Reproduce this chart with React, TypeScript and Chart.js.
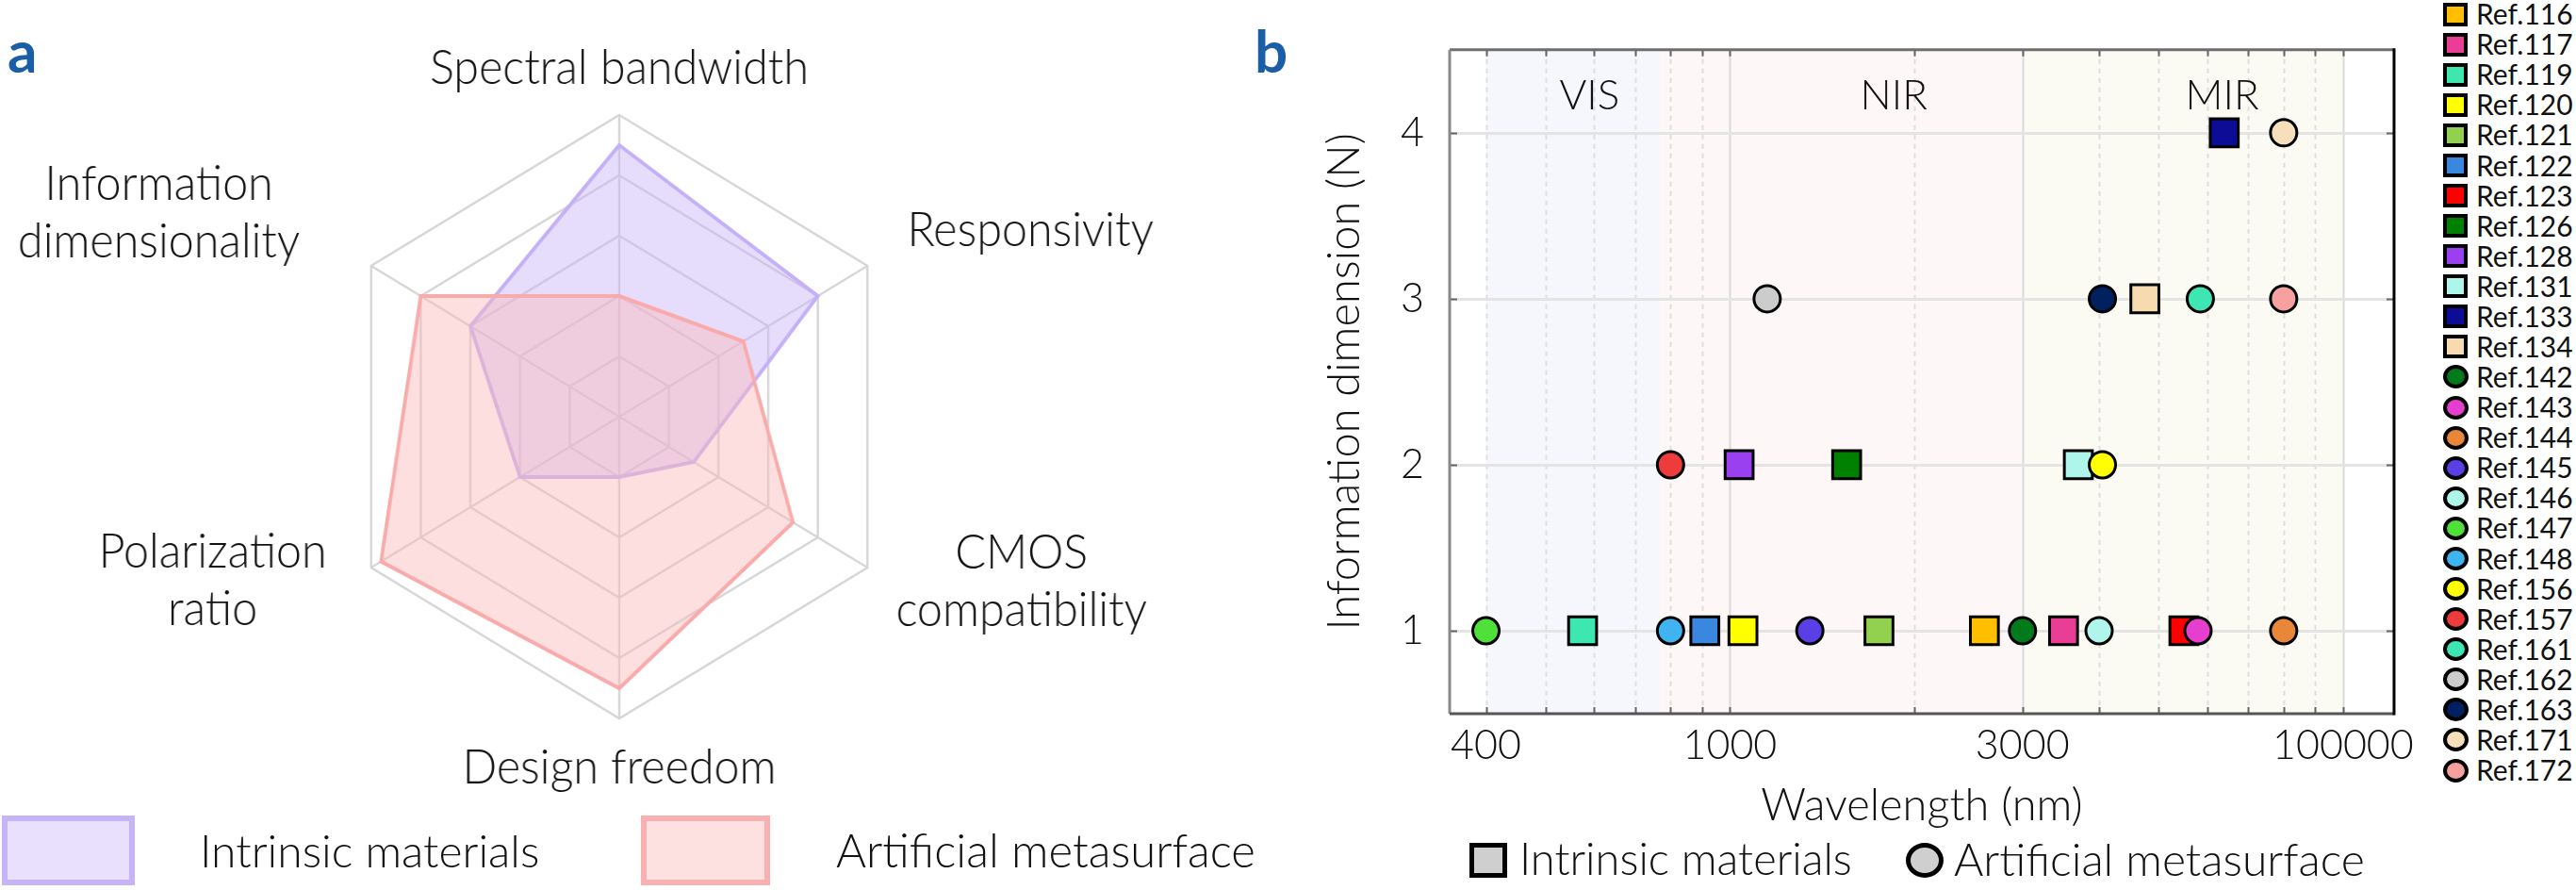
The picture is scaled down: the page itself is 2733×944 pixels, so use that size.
import { useEffect, useRef } from 'react';
import { Chart, registerables } from 'chart.js';

Chart.register(...registerables);

const FONT = 'Lato, "Open Sans", "Noto Sans", sans-serif';

// ---- Panel a: performance radar ----
const RADAR_AXES: string[][] = [
  ['Spectral bandwidth'],
  ['Responsivity'],
  ['CMOS', 'compatibility'],
  ['Design freedom'],
  ['Polarization', 'ratio'],
  ['Information', 'dimensionality'],
];
const INTRINSIC_SCORES = [4.5, 4, 1.5, 1, 2, 3];
const METASURFACE_SCORES = [2, 2.5, 3.5, 4.5, 4.8, 4];
const RADAR_MAX = 5;
const SERIES_NAMES = ['Intrinsic materials', 'Artificial metasurface'];

// ---- Panel b: information dimension vs wavelength ----
const REF_NAMES = [
  'Ref.116', 'Ref.117', 'Ref.119', 'Ref.120', 'Ref.121', 'Ref.122', 'Ref.123', 'Ref.126',
  'Ref.128', 'Ref.131', 'Ref.133', 'Ref.134', 'Ref.142', 'Ref.143', 'Ref.144', 'Ref.145',
  'Ref.146', 'Ref.147', 'Ref.148', 'Ref.156', 'Ref.157', 'Ref.161', 'Ref.162', 'Ref.163',
  'Ref.171', 'Ref.172',
];
// 'sq' = intrinsic material, 'ci' = artificial metasurface
const REF_KINDS = [
  'sq', 'sq', 'sq', 'sq', 'sq', 'sq', 'sq', 'sq', 'sq', 'sq', 'sq', 'sq',
  'ci', 'ci', 'ci', 'ci', 'ci', 'ci', 'ci', 'ci', 'ci', 'ci', 'ci', 'ci', 'ci', 'ci',
];
const REF_WAVELENGTHS = [
  2600, 3500, 575, 1050, 1750, 910, 5500, 1550, 1035, 3700, 6400, 4750,
  3000, 5800, 8000, 1350, 4000, 400, 800, 4050, 800, 5850, 1150, 4050, 8000, 8000,
];
const REF_DIMENSIONS = [
  1, 1, 1, 1, 1, 1, 1, 2, 2, 2, 4, 3,
  1, 1, 1, 1, 1, 1, 1, 2, 2, 3, 3, 3, 4, 3,
];
const REF_COLORS = [
  '#ffbf00', '#e83e96', '#3ee6b0', '#ffff00', '#92d050', '#3a87e0', '#ff0000', '#008000',
  '#9b40f0', '#aef5ec', '#0c0c96', '#f8dab0', '#007a1a', '#e63ecf', '#e8873a', '#5a3fe6',
  '#b0f5ec', '#4fe03a', '#3fb4f0', '#ffff00', '#ee3b3b', '#3ee6b4', '#cccccc', '#00205f',
  '#f8dfbb', '#f7a0a0',
];

const BAND_NAMES = ['VIS', 'NIR', 'MIR'];
const BAND_START = [400, 770, 3000];
const BAND_END = [770, 3000, 10000];
const BAND_LABEL_AT = [590, 1850, 6350];
const BAND_LABEL_LEVEL = 4.22;
const BAND_COLORS = ['#f5f7fd', '#fdf7f7', '#fbfbf4'];

const X_MIN = 349;
const X_MAX = 12110;
const X_TICKS = [400, 500, 600, 700, 800, 900, 1000, 2000, 3000, 4000, 5000, 6000, 7000, 8000, 9000, 10000];
const X_MAJOR = [1000, 3000, 10000];
const X_LABELED = [400, 1000, 3000, 10000];
const X_LABEL_TEXT = ['400', '1000', '3000', '100000'];
const Y_MIN = 0.5;
const Y_MAX = 4.5;
const Y_TICKS = [1, 2, 3, 4];

// label block centres, relative to each outer hexagon vertex
const RADAR_LABEL_OFFSETS = [
  [0, -49], [182, -37], [172, 15], [0, 53], [-177, 14], [-237, -56],
];

const radarLabels = {
  id: 'radarLabels',
  afterDraw(chart: any) {
    const scale = chart.scales.r;
    const { ctx } = chart;
    ctx.save();
    ctx.fillStyle = '#111';
    ctx.font = `300 51px ${FONT}`;
    ctx.textAlign = 'center';
    ctx.textBaseline = 'middle';
    const lh = 61;
    (chart.data.labels as string[][]).forEach((lines, i) => {
      const p = scale.getPointPosition(i, scale.drawingArea);
      const cx = p.x + RADAR_LABEL_OFFSETS[i][0];
      const cy = p.y + RADAR_LABEL_OFFSETS[i][1];
      lines.forEach((t, k) => {
        ctx.fillText(t, cx, cy + (k - (lines.length - 1) / 2) * lh);
      });
    });
    ctx.restore();
  },
};

const scatterDecor = {
  id: 'scatterDecor',
  beforeDatasetsDraw(chart: any) {
    const { ctx, chartArea: a, scales } = chart;
    const x = scales.x;
    const y = scales.y;
    ctx.save();
    BAND_START.forEach((s, i) => {
      const x0 = x.getPixelForValue(s);
      const x1 = x.getPixelForValue(BAND_END[i]);
      ctx.fillStyle = BAND_COLORS[i];
      ctx.fillRect(x0, a.top, x1 - x0, a.bottom - a.top);
    });
    X_TICKS.forEach((v) => {
      const px = Math.round(x.getPixelForValue(v)) + 0.5;
      const major = X_MAJOR.includes(v);
      ctx.strokeStyle = major ? '#d9d9d9' : '#dedede';
      ctx.lineWidth = 2;
      ctx.setLineDash(major ? [] : [5, 5]);
      ctx.beginPath();
      ctx.moveTo(px, a.top);
      ctx.lineTo(px, a.bottom);
      ctx.stroke();
    });
    ctx.setLineDash([]);
    Y_TICKS.forEach((v) => {
      const py = Math.round(y.getPixelForValue(v)) + 0.5;
      ctx.strokeStyle = '#e4e4e4';
      ctx.lineWidth = 3;
      ctx.beginPath();
      ctx.moveTo(a.left, py);
      ctx.lineTo(a.right, py);
      ctx.stroke();
    });
    ctx.fillStyle = '#111';
    ctx.font = `300 44px ${FONT}`;
    ctx.textAlign = 'center';
    ctx.textBaseline = 'middle';
    BAND_NAMES.forEach((n, i) => {
      ctx.fillText(n, x.getPixelForValue(BAND_LABEL_AT[i]), y.getPixelForValue(BAND_LABEL_LEVEL));
    });
    ctx.restore();
  },
  afterDatasetsDraw(chart: any) {
    const { ctx, chartArea: a, scales } = chart;
    const x = scales.x;
    const y = scales.y;
    ctx.save();
    ctx.strokeStyle = '#666';
    ctx.lineWidth = 2;
    X_TICKS.forEach((v) => {
      const px = Math.round(x.getPixelForValue(v)) + 0.5;
      ctx.beginPath();
      ctx.moveTo(px, a.bottom);
      ctx.lineTo(px, a.bottom - 7);
      ctx.moveTo(px, a.top);
      ctx.lineTo(px, a.top + 7);
      ctx.stroke();
    });
    Y_TICKS.forEach((v) => {
      const py = Math.round(y.getPixelForValue(v)) + 0.5;
      ctx.beginPath();
      ctx.moveTo(a.left, py);
      ctx.lineTo(a.left + 8, py);
      ctx.moveTo(a.right, py);
      ctx.lineTo(a.right - 8, py);
      ctx.stroke();
    });
    ctx.lineWidth = 3;
    const edge = (c: string, x0: number, y0: number, x1: number, y1: number) => {
      ctx.strokeStyle = c;
      ctx.beginPath();
      ctx.moveTo(x0, y0);
      ctx.lineTo(x1, y1);
      ctx.stroke();
    };
    edge('#6e6e6e', a.left, a.top, a.right, a.top);
    edge('#8a8a8a', a.left, a.top, a.left, a.bottom);
    edge('#555', a.left, a.bottom, a.right, a.bottom);
    edge('#000', a.right, a.top - 1.5, a.right, a.bottom + 1.5);
    ctx.restore();
  },
};

function RadarPanel() {
  const ref = useRef<HTMLCanvasElement>(null);
  useEffect(() => {
    const chart = new Chart(ref.current!, {
      type: 'radar',
      data: {
        labels: RADAR_AXES as any,
        datasets: [
          {
            label: SERIES_NAMES[0],
            data: INTRINSIC_SCORES,
            borderColor: '#c4b0f8',
            backgroundColor: 'rgba(200,180,250,0.45)',
            borderWidth: 4,
            pointRadius: 0,
            fill: true,
            order: 1,
          },
          {
            label: SERIES_NAMES[1],
            data: METASURFACE_SCORES,
            borderColor: '#f9abab',
            backgroundColor: 'rgba(250,185,185,0.45)',
            borderWidth: 4,
            pointRadius: 0,
            fill: true,
            order: 0,
          },
        ],
      },
      options: {
        animation: false,
        responsive: false,
        devicePixelRatio: 1,
        layout: { padding: { left: 397, right: 343, top: 122, bottom: 182 } },
        plugins: { legend: { display: false }, tooltip: { enabled: false } },
        elements: { line: { tension: 0, borderJoinStyle: 'miter' } },
        scales: {
          r: {
            min: 0,
            max: RADAR_MAX,
            ticks: { display: false, stepSize: 1 },
            grid: { color: '#d6d6d6', lineWidth: 2.5 },
            angleLines: { color: '#d6d6d6', lineWidth: 2.5 },
            pointLabels: { display: false },
          },
        },
      },
      plugins: [radarLabels],
    });
    return () => chart.destroy();
  }, []);
  return (
    <canvas
      ref={ref}
      width={1380}
      height={944}
      style={{ position: 'absolute', left: -60, top: 0, transform: 'scaleX(0.95)', transformOrigin: '717px 0' }}
    />
  );
}

function ScatterPanel() {
  const ref = useRef<HTMLCanvasElement>(null);
  useEffect(() => {
    const datasets = REF_NAMES.map((name, i) => {
      const sq = REF_KINDS[i] === 'sq';
      return {
        label: name,
        data: [{ x: REF_WAVELENGTHS[i], y: REF_DIMENSIONS[i] }],
        pointStyle: sq ? 'rect' : 'circle',
        pointRadius: sq ? 21 : 14,
        pointBackgroundColor: REF_COLORS[i],
        pointBorderColor: '#000',
        pointBorderWidth: 3,
        order: sq ? 1 : 0,
      };
    });
    const chart = new Chart(ref.current!, {
      type: 'scatter',
      data: { datasets: datasets as any },
      options: {
        animation: false,
        responsive: false,
        devicePixelRatio: 1,
        layout: { padding: { left: 69, right: 23, top: 6, bottom: 0 } },
        plugins: { legend: { display: false }, tooltip: { enabled: false } },
        scales: {
          x: {
            type: 'logarithmic',
            min: X_MIN,
            max: X_MAX,
            afterBuildTicks: (s: any) => {
              s.ticks = X_TICKS.map((v) => ({ value: v }));
            },
            afterFit: (s: any) => {
              s.height = 187;
            },
            grid: { display: false, drawTicks: false },
            border: { display: false },
            ticks: {
              autoSkip: false,
              maxRotation: 0,
              padding: 8,
              color: '#111',
              font: { family: FONT, size: 43, weight: 300 as any },
              callback: (v: any) => {
                const k = X_LABELED.indexOf(Number(v));
                return k >= 0 ? X_LABEL_TEXT[k] : '';
              },
            },
            title: {
              display: true,
              text: 'Wavelength (nm)',
              color: '#111',
              padding: { top: 0, bottom: 61 },
              font: { family: FONT, size: 47, weight: 300 as any },
            },
          },
          y: {
            type: 'linear',
            min: Y_MIN,
            max: Y_MAX,
            afterBuildTicks: (s: any) => {
              s.ticks = Y_TICKS.map((v) => ({ value: v }));
            },
            afterFit: (s: any) => {
              s.width = 139;
            },
            grid: { display: false, drawTicks: false },
            border: { display: false },
            ticks: {
              padding: 27,
              color: '#111',
              font: { family: FONT, size: 43, weight: 300 as any },
            },
            title: {
              display: true,
              text: 'Information dimension (N)',
              color: '#111',
              padding: { top: 0, bottom: 0 },
              font: { family: FONT, size: 47, weight: 300 as any },
            },
          },
        },
      },
      plugins: [scatterDecor],
    });
    return () => chart.destroy();
  }, []);
  return <canvas ref={ref} width={1240} height={944} style={{ position: 'absolute', left: 1330, top: 0 }} />;
}

const textStyle = (left: number, capCenter: number, size: number, weight = 300): React.CSSProperties => ({
  position: 'absolute',
  left,
  top: capCenter - 0.529 * size,
  fontFamily: FONT,
  fontSize: size,
  fontWeight: weight,
  lineHeight: 1,
  whiteSpace: 'nowrap',
  color: '#111',
});

export default function App() {
  return (
    <div style={{ position: 'absolute', left: 0, top: 0, width: 2733, height: 944, overflow: 'hidden', background: '#fff' }}>
      <RadarPanel />
      <ScatterPanel />

      <div style={{ ...textStyle(8, 55, 62, 700), color: '#1b5ea8' }}>a</div>
      <div style={{ ...textStyle(1331, 55, 62, 700), color: '#1b5ea8' }}>b</div>

      {/* panel a legend */}
      <div style={{ position: 'absolute', left: 2, top: 865, width: 141, height: 74, boxSizing: 'border-box', border: '6px solid #c6b3f8', background: '#e9e0fd' }} />
      <div style={textStyle(212, 903, 48)}>{SERIES_NAMES[0]}</div>
      <div style={{ position: 'absolute', left: 680, top: 865, width: 137, height: 74, boxSizing: 'border-box', border: '6px solid #f9b0b0', background: '#fde0e0' }} />
      <div style={textStyle(887, 903, 49)}>{SERIES_NAMES[1]}</div>

      {/* panel b marker-type legend */}
      <div style={{ position: 'absolute', left: 1559, top: 894, width: 40, height: 37, boxSizing: 'border-box', border: '5px solid #000', background: '#cfcfcf' }} />
      <div style={textStyle(1612, 912, 47)}>{SERIES_NAMES[0]}</div>
      <div style={{ position: 'absolute', left: 2022, top: 894, width: 40, height: 37, boxSizing: 'border-box', border: '5px solid #000', borderRadius: '50%', background: '#cfcfcf' }} />
      <div style={textStyle(2073, 912, 48)}>{SERIES_NAMES[1]}</div>

      {/* reference legend */}
      {REF_NAMES.map((name, i) => {
        const cy = 15 + 32.08 * i;
        const sq = REF_KINDS[i] === 'sq';
        return (
          <div key={name}>
            <div
              style={{
                position: 'absolute',
                left: 2592,
                top: cy - 12.5,
                width: sq ? 26 : 27,
                height: 25,
                boxSizing: 'border-box',
                border: '4px solid #000',
                borderRadius: sq ? 0 : '50%',
                background: REF_COLORS[i],
              }}
            />
            <div style={textStyle(2627, cy, 30, 400)}>{name}</div>
          </div>
        );
      })}
    </div>
  );
}
